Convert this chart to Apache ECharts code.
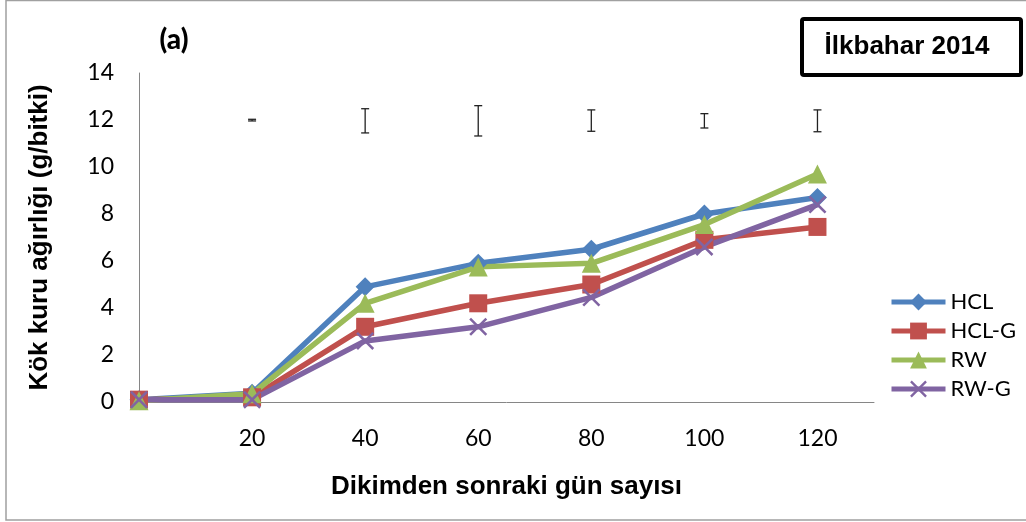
<!DOCTYPE html>
<html>
<head>
<meta charset="utf-8">
<script src="https://cdn.jsdelivr.net/npm/echarts@6/dist/echarts.min.js"></script>
<style>
html, body { margin: 0; padding: 0; background: #fff; }
#chart { width: 1026px; height: 522px; }
</style>
</head>
<body>
<div id="chart"></div>
<script>
var days = [0, 20, 40, 60, 80, 100, 120];
var hcl = [0.1, 0.37, 4.9, 5.9, 6.5, 8.0, 8.7];
var hclG = [0.1, 0.2, 3.2, 4.2, 5.0, 6.9, 7.45];
var rw = [0.05, 0.35, 4.2, 5.75, 5.9, 7.55, 9.7];
var rwG = [0.1, 0.1, 2.6, 3.2, 4.45, 6.6, 8.4];

// error bars drawn above the lines
var errDays = [20, 40, 60, 80, 100, 120];
var errTop = [12.03, 12.48, 12.61, 12.43, 12.27, 12.43];
var errBottom = [11.96, 11.45, 11.32, 11.52, 11.66, 11.5];

var labelFont = 'Lato';
var titleFont = '"Liberation Sans", Arial, sans-serif';

function pairs(vals) {
    return days.map(function (d, i) { return [d, vals[i]]; });
}

var crossPath = 'path://M0,1 L1,0 L5,4 L9,0 L10,1 L6,5 L10,9 L9,10 L5,6 L1,10 L0,9 L4,5 Z';

var chart = echarts.init(document.getElementById('chart'));
var options = {
    animation: false,
    grid: { left: 139, right: 152, top: 73, bottom: 120 },
    xAxis: {
        type: 'value',
        min: 0,
        max: 130,
        interval: 20,
        name: 'Dikimden sonraki gün sayısı',
        nameLocation: 'middle',
        nameGap: 72,
        nameTextStyle: { fontFamily: titleFont, fontWeight: 'bold', fontSize: 26, color: '#000' },
        axisLine: { lineStyle: { color: '#868686', width: 1 } },
        axisTick: { show: false },
        splitLine: { show: false },
        axisLabel: {
            margin: 25,
            fontFamily: labelFont,
            fontSize: 23,
            color: '#000',
            formatter: function (v) { return (v > 0 && v <= 120 && v % 20 === 0) ? String(v) : ''; }
        }
    },
    yAxis: {
        type: 'value',
        min: 0,
        max: 14,
        interval: 2,
        name: 'Kök kuru ağırlığı (g/bitki)',
        nameLocation: 'middle',
        nameGap: 86,
        nameTextStyle: { fontFamily: titleFont, fontWeight: 'bold', fontSize: 26, color: '#000' },
        axisLine: { show: true, lineStyle: { color: '#868686', width: 1 } },
        axisTick: { show: false },
        splitLine: { show: false },
        axisLabel: { margin: 25, fontFamily: labelFont, fontSize: 23, color: '#000' }
    },
    legend: {
        orient: 'vertical',
        left: 884,
        top: 286,
        itemWidth: 54,
        itemHeight: 21,
        itemGap: 7,
        itemStyle: { borderWidth: 0 },
        lineStyle: { width: 5 },
        textStyle: { fontFamily: labelFont, fontSize: 22, color: '#000' },
        data: ['HCL', 'HCL-G', 'RW', 'RW-G']
    },
    graphic: [
        {
            type: 'rect',
            shape: { x: 6, y: 0.5, width: 1040, height: 519.5 },
            style: { fill: 'none', stroke: '#a0a0a0', lineWidth: 1.5 },
            silent: true
        },
        {
            type: 'rect',
            shape: { x: 802, y: 19, width: 219, height: 56, r: 2 },
            style: { fill: '#fff', stroke: '#000', lineWidth: 4 }
        },
        {
            type: 'text',
            x: 907, y: 47,
            style: { text: 'İlkbahar 2014', fontFamily: titleFont, fontWeight: 'bold', fontSize: 26, fill: '#000', align: 'center', verticalAlign: 'middle' }
        },
        {
            type: 'text',
            x: 174, y: 40,
            style: { text: '(a)', fontFamily: labelFont, fontWeight: 900, fontSize: 28, fill: '#000', align: 'center', verticalAlign: 'middle' }
        }
    ],
    series: [
        {
            name: 'HCL', type: 'line', data: pairs(hcl),
            symbol: 'diamond', symbolSize: 19,
            lineStyle: { width: 5.5, color: '#4F81BD' },
            itemStyle: { color: '#4F81BD' }
        },
        {
            name: 'HCL-G', type: 'line', data: pairs(hclG),
            symbol: 'rect', symbolSize: 18,
            lineStyle: { width: 5.5, color: '#C0504D' },
            itemStyle: { color: '#C0504D' }
        },
        {
            name: 'RW', type: 'line', data: pairs(rw),
            symbol: 'triangle', symbolSize: 19,
            lineStyle: { width: 5.5, color: '#9BBB59' },
            itemStyle: { color: '#9BBB59' }
        },
        {
            name: 'RW-G', type: 'line', data: pairs(rwG),
            symbol: crossPath, symbolSize: 18,
            lineStyle: { width: 5.5, color: '#8064A2' },
            itemStyle: { color: '#8064A2' }
        },
        {
            name: 'err', type: 'custom',
            data: errDays.map(function (d, i) { return [d, errBottom[i], errTop[i]]; }),
            renderItem: function (params, api) {
                var lo = api.coord([api.value(0), api.value(1)]);
                var hi = api.coord([api.value(0), api.value(2)]);
                var half = 4;
                var st = { stroke: '#222', lineWidth: 1.3 };
                return {
                    type: 'group',
                    children: [
                        { type: 'line', shape: { x1: hi[0], y1: hi[1], x2: lo[0], y2: lo[1] }, style: st },
                        { type: 'line', shape: { x1: hi[0] - half, y1: hi[1], x2: hi[0] + half, y2: hi[1] }, style: st },
                        { type: 'line', shape: { x1: lo[0] - half, y1: lo[1], x2: lo[0] + half, y2: lo[1] }, style: st }
                    ]
                };
            },
            z: 1
        }
    ]
};
chart.setOption(options);
chart.resize();
window.onresize = function () {
    chart.resize();
};
</script>
</body>
</html>
